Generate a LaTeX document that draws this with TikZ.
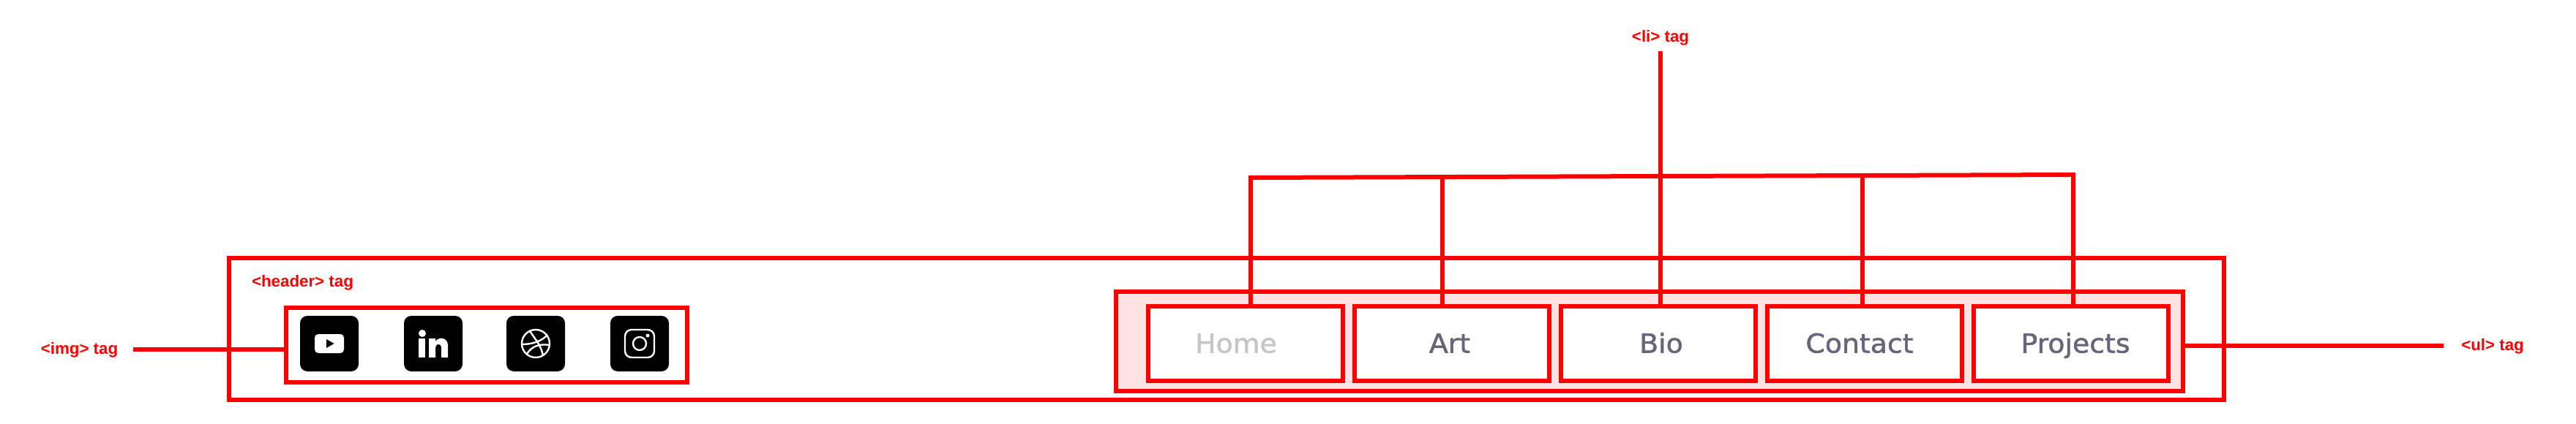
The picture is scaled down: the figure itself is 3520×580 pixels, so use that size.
\documentclass[tikz,border=0pt]{standalone}
\usepackage{fontspec}
\newfontfamily\tagfont{Liberation Sans}
\newfontfamily\navfont{DejaVu Sans}[FakeBold=1.5,FakeStretch=1.05]
\definecolor{tagred}{HTML}{FF0000}
\definecolor{navgrey}{HTML}{66667A}
\definecolor{homegrey}{HTML}{C6C6C6}
\definecolor{ulpink}{HTML}{FFE2E2}
\tikzset{
  tagbox/.style={draw=tagred,line width=6pt,inner sep=0pt,outer sep=0pt,anchor=north west},
  libox/.style={tagbox,fill=white,minimum width=266pt,minimum height=102pt},
  tagtext/.style={text=tagred,inner sep=0pt,anchor=base,font=\tagfont\bfseries\fontsize{22.3}{24}\selectfont},
  navtext/.style={text=navgrey,inner sep=0pt,anchor=base,font=\navfont\fontsize{36}{38}\selectfont},
  icon/.style={fill=black,rounded corners=10pt,inner sep=0pt,outer sep=0pt,minimum width=80pt,minimum height=76pt},
  wire/.style={draw=tagred,line width=6pt},
  glyph/.style={draw=white,line width=2.4pt}
}
\begin{document}
\begin{tikzpicture}[x=1pt,y=-1pt]
      \useasboundingbox (0,0) rectangle (3520,580);
      \fill[white] (0,0) rectangle (3520,580);
      % boxes
      \node[tagbox,minimum width=2726pt,minimum height=194pt] (header) at (313,353) {};
      \node[tagbox,minimum width=548pt,minimum height=102pt] (imgbox) at (391,421) {};
      \node[tagbox,fill=ulpink,minimum width=1458pt,minimum height=136pt] (ulbox) at (1525,399) {};
      \node[libox] (home) at (1569,419) {};
      \node[libox] (art) at (1851,419) {};
      \node[libox] (bio) at (2133,419) {};
      \node[libox] (contact) at (2415,419) {};
      \node[libox] (projects) at (2697,419) {};
      % menu texts
      \node[navtext,text=homegrey] (hometext) at (1689,482.5) {Home};
      \node[navtext] (arttext) at (1981,482.5) {Art};
      \node[navtext] (biotext) at (2270,482.5) {Bio};
      \node[navtext] (contacttext) at (2541,482.5) {Contact};
      \node[navtext] (projectstext) at (2836,482.5) {Projects};
      % tag labels
      \node[tagtext] (headertag) at (413.5,392) {<header> tag};
      \node[tagtext] (imgtag) at (108.5,484.3) {<img> tag};
      \node[tagtext] (ultag) at (3406,479.5) {<ul> tag};
      \node[tagtext] (litag) at (2269,58) {<li> tag};
      % li bracket
      \coordinate (lileft) at (1709,243);
      \coordinate (liart) at (1971,242);
      \coordinate (libio) at (2269,241);
      \coordinate (licontact) at (2545,240);
      \coordinate (liright) at (2833,239);
      \coordinate (litop) at (2269,70);
      \coordinate (imgend) at (182,478);
      \coordinate (ulend) at (3339,473);
      \begin{scope}[wire]
        \draw (home.north -| lileft) -- (lileft) -- (liright) -- (projects.north -| liright);
        \draw (liart) -- (art.north -| liart);
        \draw (litop) -- (libio) -- (bio.north -| libio);
        \draw (licontact) -- (contact.north -| licontact);
        \draw (imgend) -- (imgend -| imgbox.west);
        \draw (ulend) -- (ulend -| ulbox.east);
      \end{scope}
      % icons
      \node[icon] (youtube) at (450,470) {};
      \node[icon] (linkedin) at (592,470) {};
      \node[icon] (dribbble) at (732,470) {};
      \node[icon] (instagram) at (874,470) {};
      \fill[white,rounded corners=5pt] (430,457) rectangle (470,483);
      \fill[black] (446,464) -- (456.5,470) -- (446,476) -- cycle;
      \fill[white] (577,456) circle (5);
      \fill[white] (572,463) rectangle (581,489);
      \fill[white] (586,489) -- (586,463) -- (595,463) -- (595,467)
        .. controls (598,463) and (602,462) .. (605,463)
        .. controls (610,464) and (612,468) .. (612,473)
        -- (612,489) -- (603,489) -- (603,475)
        .. controls (603,470) and (596,469) .. (595,475) -- (595,489) -- cycle;
      \draw[glyph] (732,470) circle (19);
      \draw[glyph] (724,453) .. controls (733,466) and (740,474) .. (742,487);
      \draw[glyph] (713,471) .. controls (727,471) and (740,467) .. (748,458);
      \draw[glyph] (720,484) .. controls (727,473) and (738,470) .. (751,472);
      \draw[glyph,rounded corners=9pt] (854,451) rectangle (894,489);
      \draw[glyph] (874,470) circle (9);
      \fill[white] (885,459) circle (2.5);
    \end{tikzpicture}
\end{document}
